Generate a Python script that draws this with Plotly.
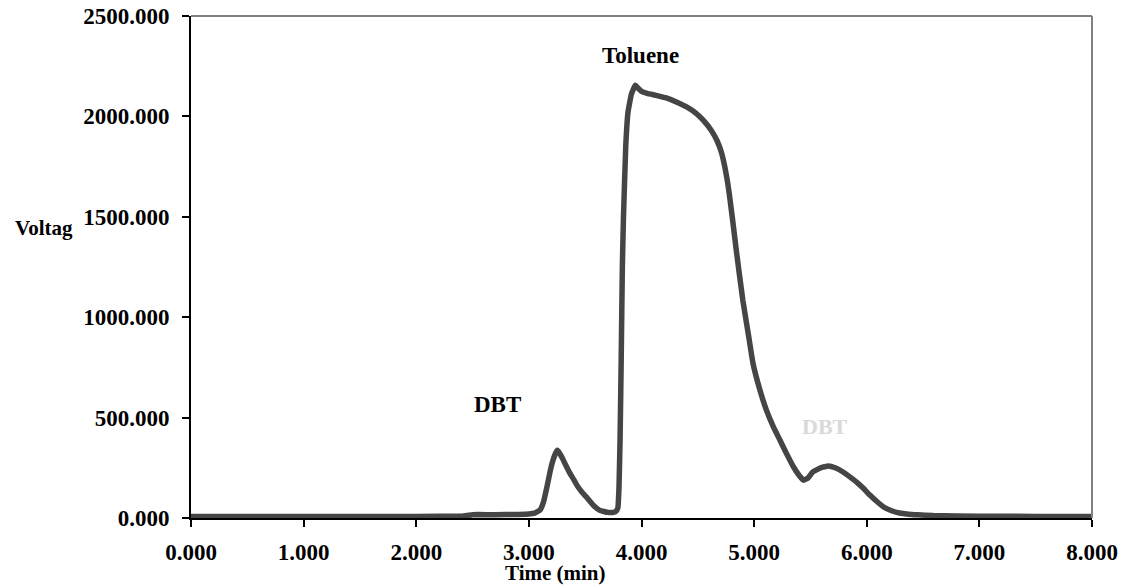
import plotly.graph_objects as go

# Chromatogram trace (time in min, voltage)
time_min = [0.0, 0.5, 1.0, 1.5, 2.0, 2.4, 2.45, 2.5, 2.55, 2.7, 2.9, 3.0, 3.05, 3.1, 3.13, 3.16, 3.19,
            3.21, 3.235, 3.253, 3.27, 3.3, 3.33, 3.365, 3.4, 3.43, 3.47, 3.51, 3.57, 3.63, 3.7, 3.75,
            3.77, 3.79, 3.8, 3.81, 3.82, 3.83, 3.84, 3.86, 3.88, 3.91, 3.945, 3.97, 4.0, 4.05, 4.13,
            4.22, 4.31, 4.40, 4.48, 4.55, 4.62, 4.67, 4.71, 4.74, 4.765, 4.785, 4.81, 4.84, 4.87,
            4.90, 4.95, 4.99, 5.05, 5.11, 5.17, 5.23, 5.29, 5.35, 5.40, 5.44, 5.48, 5.52, 5.59,
            5.66, 5.72, 5.79, 5.85, 5.91, 5.97, 6.03, 6.09, 6.15, 6.22, 6.29, 6.37, 6.45, 6.59,
            7.0, 7.5, 8.0]
voltage = [8, 8, 8, 8, 8, 9, 12, 16, 17, 16, 18, 20, 24, 40, 80, 154, 235,
           280, 320, 337, 325, 295, 260, 222, 190, 160, 130, 105, 65, 38, 28, 28,
           32, 50, 150, 400, 800, 1250, 1500, 1850, 2020, 2110, 2155, 2140, 2125, 2115, 2105,
           2092, 2072, 2047, 2018, 1980, 1930, 1880, 1820, 1748, 1670, 1590, 1480, 1340, 1210,
           1084, 910, 770, 640, 536, 455, 387, 318, 254, 212, 188, 200, 229, 250,
           259, 250, 229, 205, 179, 148, 113, 82, 55, 36, 25, 19, 16, 12,
           9, 8, 8]

x_ticks = [0, 1, 2, 3, 4, 5, 6, 7, 8]
y_ticks = [0, 500, 1000, 1500, 2000, 2500]

FONT = "Liberation Serif"

fig = go.Figure()
fig.add_trace(go.Scatter(
    x=time_min, y=voltage, mode="lines",
    line=dict(color="#454545", width=5.5, shape="spline", smoothing=0.3),
    showlegend=False, hoverinfo="skip"))

fig.update_layout(
    width=1124, height=586,
    margin=dict(l=191, r=32, t=16, b=68),
    paper_bgcolor="white", plot_bgcolor="white",
    font=dict(family=FONT, size=23, color="black"),
    xaxis=dict(range=[0, 8], tickvals=x_ticks, tickformat=".3f", automargin=False,
               showgrid=False, zeroline=False, showline=True, linecolor="black", linewidth=2,
               ticks="outside", ticklen=7, tickwidth=1.5, tickcolor="black",
               ticklabelstandoff=5, ticklabeloverflow="allow",
               tickfont=dict(family=FONT, size=23, color="black", weight="bold")),
    yaxis=dict(range=[0, 2500], tickvals=y_ticks, tickformat=".3f", automargin=False,
               showgrid=False, zeroline=False, showline=True, linecolor="black", linewidth=2,
               ticks="outside", ticklen=7, tickwidth=1.5, tickcolor="black",
               ticklabelstandoff=8, ticklabeloverflow="allow",
               tickfont=dict(family=FONT, size=23, color="black", weight="bold")),
)

# grey top and right frame
fig.add_shape(type="line", xref="paper", yref="paper", x0=0, x1=1, y0=1, y1=1,
              line=dict(color="#808080", width=2))
fig.add_shape(type="line", xref="paper", yref="paper", x0=1, x1=1, y0=0, y1=1,
              line=dict(color="#808080", width=2))

fig.add_annotation(text="<b>Toluene</b>", x=3.987, y=2304, xref="x", yref="y",
                   showarrow=False, font=dict(family=FONT, size=23, color="black"))
fig.add_annotation(text="<b>DBT</b>", x=2.718, y=566, xref="x", yref="y",
                   showarrow=False, font=dict(family=FONT, size=23, color="black"))
fig.add_annotation(text="<b>DBT</b>", x=5.628, y=457, xref="x", yref="y",
                   showarrow=False, font=dict(family=FONT, size=22, color="#d9d9d9"))
fig.add_annotation(text="<b>Time (min)</b>", x=0.404, y=-0.109, xref="paper", yref="paper",
                   xanchor="center", yanchor="middle",
                   showarrow=False, font=dict(family=FONT, size=21, color="black"))
fig.add_annotation(text="<b>Voltag</b>", x=-0.198, y=0.577, xref="paper", yref="paper",
                   xanchor="left", yanchor="middle",
                   showarrow=False, font=dict(family=FONT, size=21, color="black"))

fig.write_html("out.html", config={"displayModeBar": False},
               post_script="document.body.style.margin='0';document.body.style.overflow='hidden';")
